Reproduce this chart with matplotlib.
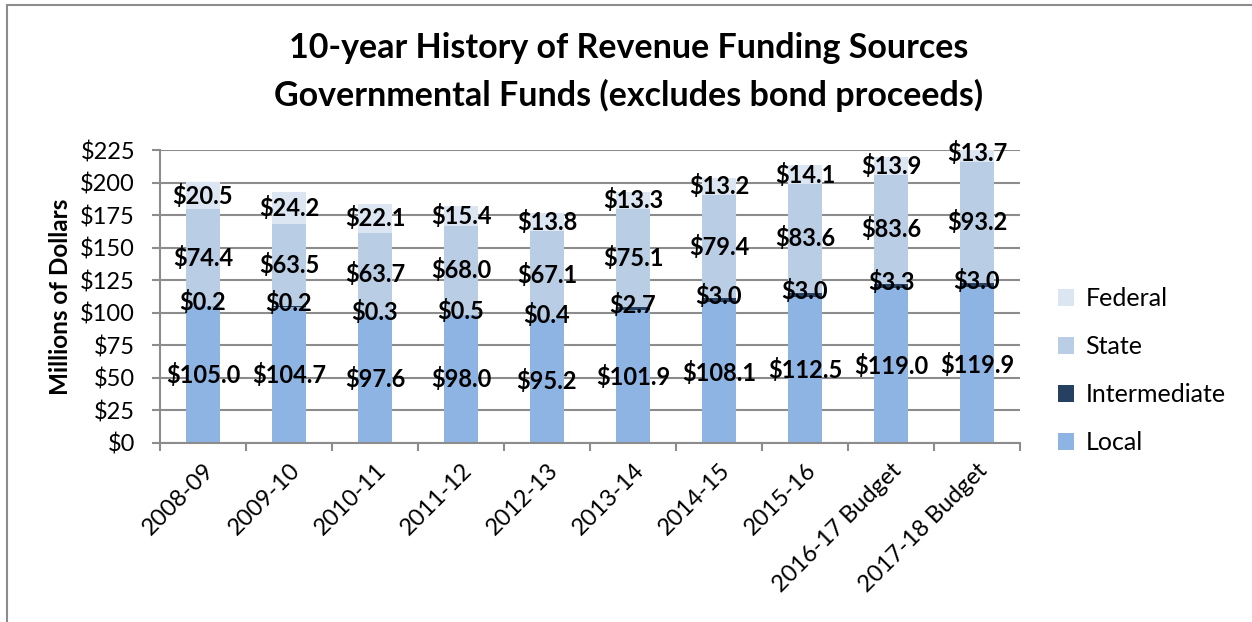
import numpy as np
import matplotlib.pyplot as plt
from matplotlib.patches import Rectangle

# data (millions of dollars)
years = ['2008-09', '2009-10', '2010-11', '2011-12', '2012-13', '2013-14',
         '2014-15', '2015-16', '2016-17 Budget', '2017-18 Budget']
local = [105.0, 104.7, 97.6, 98.0, 95.2, 101.9, 108.1, 112.5, 119.0, 119.9]
intermediate = [0.2, 0.2, 0.3, 0.5, 0.4, 2.7, 3.0, 3.0, 3.3, 3.0]
state = [74.4, 63.5, 63.7, 68.0, 67.1, 75.1, 79.4, 83.6, 83.6, 93.2]
federal = [20.5, 24.2, 22.1, 15.4, 13.8, 13.3, 13.2, 14.1, 13.9, 13.7]

plt.rcParams['font.family'] = ['Lato', 'DejaVu Sans']

fig = plt.figure(figsize=(12.52, 6.22), dpi=100)
W, H = 1252, 622
ax = fig.add_axes([160 / W, 1 - 443 / H, 860 / W, 293 / H])

# outer chart border
fig.patches.append(Rectangle((7 / W, -0.05), 1.2, 1 - 5 / H + 0.05,
                             transform=fig.transFigure, fill=False,
                             edgecolor='#8c8c8c', linewidth=1.5))

x = np.arange(len(years))
w = 0.4
series = [('Local', local, '#8EB4E3'),
          ('Intermediate', intermediate, '#254061'),
          ('State', state, '#B9CDE5'),
          ('Federal', federal, '#DCE6F2')]

bottom = np.zeros(len(years))
handles = []
for name, vals, col in series:
    vals = np.array(vals)
    b = ax.bar(x, vals, w, bottom=bottom, color=col, label=name, zorder=2)
    handles.append(b)
    for xi, bt, v in zip(x, bottom, vals):
        yc = bt + v / 2
        if name == 'Intermediate':
            yc += 3
        ax.text(xi, yc, f'${v:.1f}', ha='center', va='center',
                fontsize=17, fontweight='bold', zorder=4, clip_on=False)
    bottom += vals

ax.set_ylim(0, 225)
ax.set_xlim(-0.5, len(years) - 0.5)
ax.set_yticks(np.arange(0, 226, 25))
ax.set_yticklabels([f'${v}' for v in range(0, 226, 25)], fontsize=17)
ax.yaxis.grid(True, color='#8c8c8c', linewidth=1.5, zorder=0)
ax.set_axisbelow(True)

ax.set_xticks(np.arange(-0.5, len(years), 1), minor=False)
ax.set_xticklabels([])
ax.set_xticks(x, minor=True)
ax.set_xticklabels(years, minor=True, rotation=45, ha='right',
                   rotation_mode='anchor', fontsize=17)
ax.tick_params(axis='x', which='minor', length=0, pad=12)
ax.tick_params(axis='x', which='major', length=6, color='#8c8c8c', width=1.5)
ax.tick_params(axis='y', length=6, color='#8c8c8c', width=1.5, pad=12)

for s in ['top', 'right']:
    ax.spines[s].set_visible(False)
for s in ['left', 'bottom']:
    ax.spines[s].set_color('#8c8c8c')
    ax.spines[s].set_linewidth(1.5)

ax.set_ylabel('Millions of Dollars', fontsize=17.5, fontweight='bold', labelpad=6)

fig.text(0.502, 1 - 48 / H, '10-year History of Revenue Funding Sources',
         ha='center', va='center', fontsize=24.5, fontweight='bold')
fig.text(0.502, 1 - 95 / H, 'Governmental Funds (excludes bond proceeds)',
         ha='center', va='center', fontsize=24.5, fontweight='bold')

fig.legend(handles[::-1], [s[0] for s in series][::-1],
           loc='center left', bbox_to_anchor=(1058 / W, 1 - 371 / H),
           frameon=False, fontsize=18, handlelength=0.65, handleheight=0.65,
           handletextpad=0.45, labelspacing=1.0, borderpad=0,
           borderaxespad=0)

fig.savefig('out.png', dpi=100)
